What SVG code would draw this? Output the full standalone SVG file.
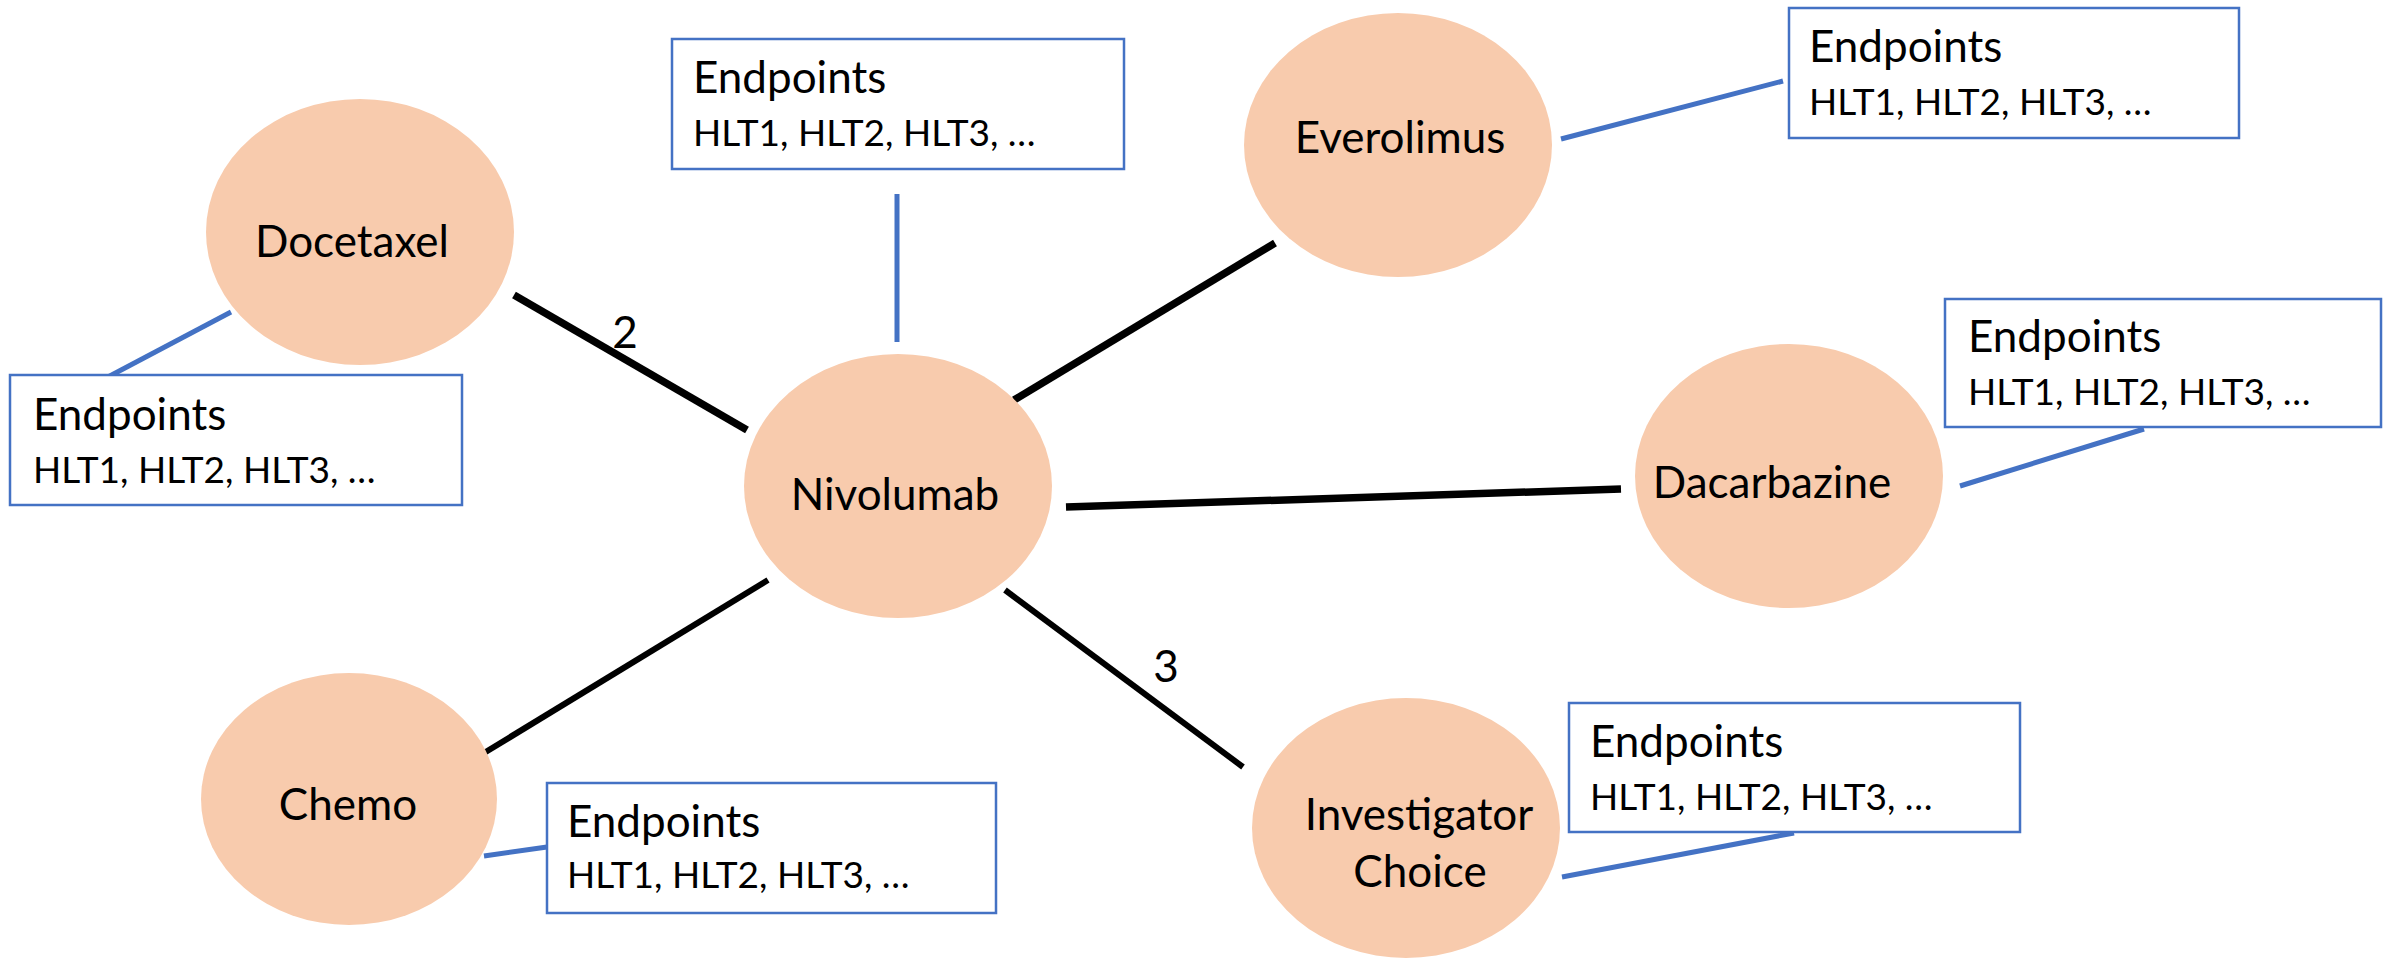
<svg xmlns="http://www.w3.org/2000/svg" width="2384" height="960" viewBox="0 0 2384 960">
<style>
.node{fill:#F8CBAD;stroke:none}
.lbl{font-family:Lato,"Liberation Sans",sans-serif;font-size:44px;fill:#000;text-anchor:middle}
.box{fill:#fff;stroke:#4472C4;stroke-width:2.5}
.t1{font-family:Lato,"Liberation Sans",sans-serif;font-size:44px;fill:#000}
.t2{font-family:Lato,"Liberation Sans",sans-serif;font-size:37px;fill:#000}
.edge{stroke:#000;stroke-width:7.5;fill:none}
.thin{stroke-width:6}
.link{stroke:#4472C4;stroke-width:5;fill:none}
</style>
<rect width="2384" height="960" fill="#fff"/>
<g id="connectors">
<line class="edge" x1="514" y1="295" x2="747" y2="430"/>
<line class="edge" x1="1014" y1="400" x2="1275" y2="243"/>
<line class="edge" x1="1066" y1="507" x2="1621" y2="489"/>
<line class="edge thin" x1="768" y1="580" x2="484" y2="753"/>
<line class="edge thin" x1="1005" y1="590" x2="1243" y2="767"/>
<text class="lbl" x="625" y="348">2</text>
<text class="lbl" x="1166" y="682">3</text>
<line class="link" x1="231" y1="312" x2="106" y2="378"/>
<line class="link" x1="897" y1="194" x2="897" y2="342"/>
<line class="link" x1="1561" y1="139" x2="1783" y2="81"/>
<line class="link" x1="1960" y1="486" x2="2144" y2="429"/>
<line class="link" x1="484" y1="856" x2="547" y2="847"/>
<line class="link" x1="1562" y1="877" x2="1794" y2="833"/>
</g>
<g id="docetaxel"><ellipse class="node" cx="360" cy="232" rx="154" ry="133"/><text class="lbl" x="352" y="257">Docetaxel</text></g>
<g id="nivolumab"><ellipse class="node" cx="898" cy="486" rx="154" ry="132"/><text class="lbl" x="895" y="510">Nivolumab</text></g>
<g id="everolimus"><ellipse class="node" cx="1398" cy="145" rx="154" ry="132"/><text class="lbl" x="1400" y="153">Everolimus</text></g>
<g id="dacarbazine"><ellipse class="node" cx="1789" cy="476" rx="154" ry="132"/><text class="lbl" x="1772" y="498">Dacarbazine</text></g>
<g id="chemo"><ellipse class="node" cx="349" cy="799" rx="148" ry="126"/><text class="lbl" x="348" y="820">Chemo</text></g>
<g id="investigator"><ellipse class="node" cx="1406" cy="828" rx="154" ry="130"/><text class="lbl" x="1419" y="830">Investigator</text><text class="lbl" x="1420" y="887">Choice</text></g>
<g id="box-nivolumab"><rect class="box" x="672" y="39" width="452" height="130"/><text class="t1" x="693" y="93">Endpoints</text><text class="t2" x="693" y="146">HLT1, HLT2, HLT3, …</text></g>
<g id="box-everolimus"><rect class="box" x="1789" y="8" width="450" height="130"/><text class="t1" x="1809" y="62">Endpoints</text><text class="t2" x="1809" y="115">HLT1, HLT2, HLT3, …</text></g>
<g id="box-docetaxel"><rect class="box" x="10" y="375" width="452" height="130"/><text class="t1" x="33" y="430">Endpoints</text><text class="t2" x="33" y="483">HLT1, HLT2, HLT3, …</text></g>
<g id="box-dacarbazine"><rect class="box" x="1945" y="299" width="436" height="128"/><text class="t1" x="1968" y="352">Endpoints</text><text class="t2" x="1968" y="405">HLT1, HLT2, HLT3, …</text></g>
<g id="box-chemo"><rect class="box" x="547" y="783" width="449" height="130"/><text class="t1" x="567" y="837">Endpoints</text><text class="t2" x="567" y="888">HLT1, HLT2, HLT3, …</text></g>
<g id="box-investigator"><rect class="box" x="1569" y="703" width="451" height="129"/><text class="t1" x="1590" y="757">Endpoints</text><text class="t2" x="1590" y="810">HLT1, HLT2, HLT3, …</text></g>
</svg>
